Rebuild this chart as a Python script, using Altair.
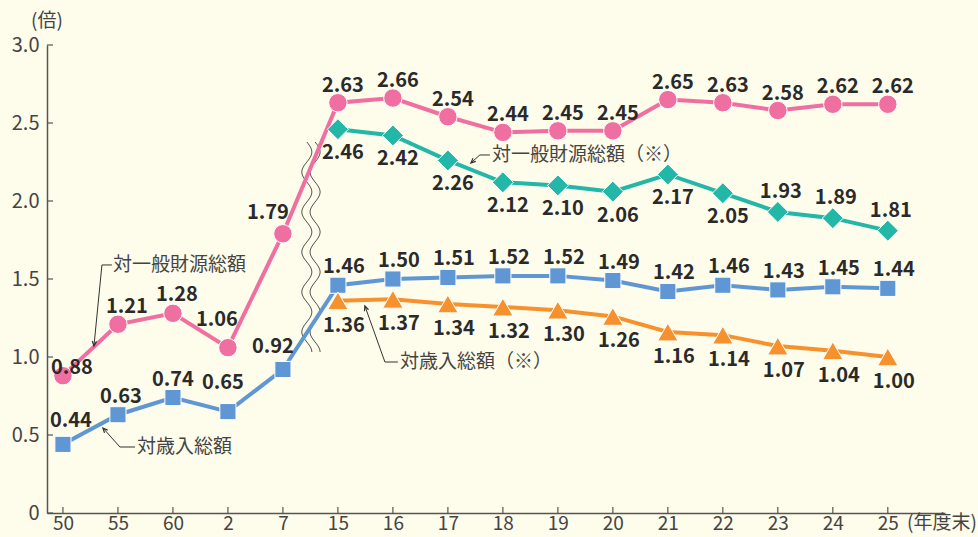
import math
import altair as alt
import pandas as pd

# ---------------- data ----------------
years = ["50", "55", "60", "2", "7", "15", "16", "17", "18", "19", "20",
         "21", "22", "23", "24", "25"]
general = [0.88, 1.21, 1.28, 1.06, 1.79, 2.63, 2.66, 2.54, 2.44, 2.45, 2.45,
           2.65, 2.63, 2.58, 2.62, 2.62]
revenue = [0.44, 0.63, 0.74, 0.65, 0.92, 1.46, 1.50, 1.51, 1.52, 1.52, 1.49,
           1.42, 1.46, 1.43, 1.45, 1.44]
general_x = [2.46, 2.42, 2.26, 2.12, 2.10, 2.06, 2.17, 2.05, 1.93, 1.89, 1.81]
revenue_x = [1.36, 1.37, 1.34, 1.32, 1.30, 1.26, 1.16, 1.14, 1.07, 1.04, 1.00]
y_ticks = [0, 0.5, 1.0, 1.5, 2.0, 2.5, 3.0]

ann_text = ["対一般財源総額", "対歳入総額", "対歳入総額（※）", "対一般財源総額（※）"]
ann_x = [0.909, 1.345, 6.127, 7.80]
ann_y = [1.590, 0.423, 0.968, 2.295]
# leader lines: (x, y) points, last point = arrow tip
leaders = [
    [(0.890, 1.590), (0.709, 1.590), (0.564, 1.071)],
    [(1.310, 0.423), (1.036, 0.423), (0.727, 0.545)],
    [(6.090, 0.968), (5.855, 0.968), (5.491, 1.327)],
    [(7.764, 2.295), (7.582, 2.295), (7.418, 2.244)],
]

PINK = "#EF6FA0"
BLUE = "#5F97D4"
TEAL = "#22B7A6"
ORANGE = "#F6912E"
BG = "#FEFCEA"
FONT = "Noto Sans CJK JP"
TXT = "#2a2a2a"

W, H = 898, 468
XDOM = [-0.29, 16.04]
XPX = W / (XDOM[1] - XDOM[0])
YPX = H / 3.0

xs = alt.Scale(domain=XDOM, nice=False, zero=False)
ys = alt.Scale(domain=[0, 3], nice=False, zero=False)

label_expr = "[" + ",".join(f"'{y}'" for y in years) + "][datum.value]"

x_axis = alt.Axis(values=list(range(len(years))), labelExpr=label_expr, ticks=False,
                  domainColor="#555555", domainWidth=1.5, labelFontSize=19,
                  labelColor="#444444", labelFont=FONT, grid=False, labelPadding=1,
                  labelBaseline="top", title=None)
y_axis = alt.Axis(values=y_ticks,
                  labelExpr="datum.value == 0 ? '0' : format(datum.value, '.1f')",
                  ticks=False, domainColor="#555555", domainWidth=1.5, labelFontSize=20,
                  labelColor="#444444", labelFont=FONT, grid=False, labelPadding=8,
                  title=None)


def X(field="i"):
    return alt.X(f"{field}:Q", scale=xs, axis=x_axis, title=None)


def Y(field="v"):
    return alt.Y(f"{field}:Q", scale=ys, axis=y_axis, title=None)


def series_df(vals, start):
    return pd.DataFrame({"i": list(range(start, start + len(vals))), "v": vals})


d_gen = series_df(general, 0)
d_rev = series_df(revenue, 0)
d_genx = series_df(general_x, 5)
d_revx = series_df(revenue_x, 5)

layers = []

# inward ticks
layers.append(alt.Chart(pd.DataFrame({"i": list(range(len(years)))})).mark_rule(
    color="#555555", strokeWidth=1.2).encode(
    x=X(), y=alt.value(H), y2=alt.value(H - 6)))
layers.append(alt.Chart(pd.DataFrame({"v": y_ticks})).mark_rule(
    color="#555555", strokeWidth=1.2).encode(
    y=Y(), x=alt.value(0), x2=alt.value(6)))

# wavy break lines (decoration)
for off in (-0.075, 0.075):
    wave = alt.Chart(alt.sequence(0, 211, as_="k")).transform_calculate(
        wy=f"{(513 - 142) / YPX} - datum.k / {YPX}",
        wx=f"4.51 + {off} + {5 / XPX} * sin(2 * PI * datum.k / 40)",
    ).mark_line(color="#555555", strokeWidth=1, clip=False).encode(
        x=X("wx"), y=Y("wy"), order=alt.Order("k:Q"))
    layers.append(wave)


def line(df, color):
    return alt.Chart(df).mark_line(color=color, strokeWidth=4).encode(x=X(), y=Y())


def pts(df, color, shape, size):
    return alt.Chart(df).mark_point(shape=shape, size=size, filled=True, fill=color,
                                    stroke="white", strokeWidth=1, opacity=1).encode(
        x=X(), y=Y())


def labels(df, cond, dx, dy):
    return alt.Chart(df).transform_filter(cond).mark_text(
        font=FONT, fontSize=20, fontWeight="bold", color=TXT, dx=dx, dy=dy,
        baseline="middle", align="center").encode(
        x=X(), y=Y(), text=alt.Text("v:Q", format=".2f"))


layers += [line(d_gen, PINK), line(d_genx, TEAL), line(d_rev, BLUE), line(d_revx, ORANGE)]
layers += [pts(d_gen, PINK, "circle", 340), pts(d_genx, TEAL, "diamond", 440),
           pts(d_rev, BLUE, "square", 260), pts(d_revx, ORANGE, "triangle-up", 420)]

# pink labels
pink_off = {0: (9, -8), 1: (9, -17), 2: (4, -18), 3: (-11, -28), 4: (-15, -21)}
for k, (dx, dy) in pink_off.items():
    layers.append(labels(d_gen, f"datum.i == {k}", dx, dy))
layers.append(labels(d_gen, "datum.i >= 5", 5, -17))
# blue labels
blue_off = {0: (8, -23), 1: (3, -18), 2: (0, -18), 3: (-5, -29), 4: (-10, -22)}
for k, (dx, dy) in blue_off.items():
    layers.append(labels(d_rev, f"datum.i == {k}", dx, dy))
layers.append(labels(d_rev, "datum.i >= 5", 6, -18))
# teal labels
layers.append(labels(d_genx, "datum.i < 13", 5, 24))
layers.append(labels(d_genx, "datum.i >= 13", 3, -20))
# orange labels
layers.append(labels(d_revx, "true", 6, 25))

# annotations
rows = []
for g, pl in enumerate(leaders):
    for o, (a, b) in enumerate(pl):
        rows.append({"g": g, "o": o, "lx": a, "ly": b})
d_lead = pd.DataFrame(rows)
layers.append(alt.Chart(d_lead).mark_line(color="#333333", strokeWidth=1).encode(
    x=X("lx"), y=Y("ly"), detail="g:N", order=alt.Order("o:Q")))

tips = []
for pl in leaders:
    (ax, ay), (bx, by) = pl[-2], pl[-1]
    dxp = (bx - ax) * XPX
    dyp = -(by - ay) * YPX
    ang = math.degrees(math.atan2(dxp, -dyp)) % 360
    tips.append({"tx": bx, "ty": by, "ang": ang})
d_tip = pd.DataFrame(tips)
layers.append(alt.Chart(d_tip).mark_point(
    shape="M-0.45,1L0,0L0.45,1", size=90, filled=False, stroke="#333333",
    strokeWidth=1.2, opacity=1).encode(
    x=X("tx"), y=Y("ty"), angle=alt.Angle("ang:Q", scale=None)))

d_ann = pd.DataFrame({"t": ann_text, "ax": ann_x, "ay": ann_y})
layers.append(alt.Chart(d_ann).mark_text(
    font=FONT, fontSize=19, color="#444444", align="left", baseline="middle").encode(
    x=X("ax"), y=Y("ay"), text="t:N"))

# unit labels
layers.append(alt.Chart(pd.DataFrame({"t": ["(倍)"]})).mark_text(
    font=FONT, fontSize=19, color="#444444", align="center", baseline="middle").encode(
    x=alt.value(0), y=alt.value(-24), text="t:N"))
layers.append(alt.Chart(pd.DataFrame({"t": ["(年度末)"]})).mark_text(
    font=FONT, fontSize=19, color="#444444", align="left", baseline="top").encode(
    x=alt.value(860), y=alt.value(H + 1), text="t:N"))

chart = alt.layer(*layers).properties(
    width=W, height=H, background=BG,
    padding={"left": 47, "top": 45, "right": 33, "bottom": 24},
    autosize=alt.AutoSizeParams(type="none"),
).configure_view(stroke=None)

chart.save("out.html", embed_options={"renderer": "svg", "actions": False})
